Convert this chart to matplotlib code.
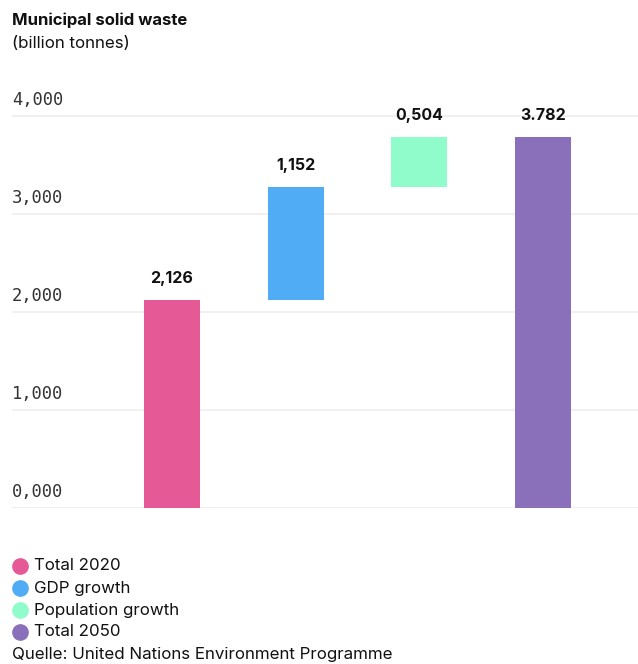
import matplotlib
matplotlib.use("Agg")
import matplotlib.pyplot as plt
from matplotlib.transforms import blended_transform_factory, offset_copy

categories = ["Total 2020", "GDP growth", "Population growth", "Total 2050"]
values = [2.126, 1.152, 0.504, 3.782]
is_total = [True, False, False, True]
value_labels = ["2,126", "1,152", "0,504", "3.782"]
colors = ["#E55A96", "#4FACF5", "#90FCCB", "#8A6FBB"]
yticks = [0, 1, 2, 3, 4]
ytick_labels = ["0,000", "1,000", "2,000", "3,000", "4,000"]
title = "Municipal solid waste"
subtitle = "(billion tonnes)"
source = "Quelle: United Nations Environment Programme"

W, H = 638, 664
fig = plt.figure(figsize=(W / 100, H / 100), dpi=100)
fig.patch.set_facecolor("white")

ax_left, ax_right = 12, 638
ax_bottom, ax_top = 508, 100
ax = fig.add_axes([ax_left / W, 1 - ax_bottom / H, (ax_right - ax_left) / W, (ax_bottom - ax_top) / H])
px_per_unit = 98.0
ax.set_ylim(0, (ax_bottom - ax_top) / px_per_unit)
spacing = 123.67
ax.set_xlim(-(172 - ax_left) / spacing, 3 + (ax_right - 543) / spacing)

# waterfall bottoms
bottoms = []
running = 0.0
for v, t in zip(values, is_total):
    if t:
        bottoms.append(0.0)
        running = v
    else:
        bottoms.append(running)
        running += v

xs = list(range(len(values)))
ax.bar(xs, values, bottom=bottoms, width=56 / spacing, color=colors, zorder=3)

for x, v, b, lab in zip(xs, values, bottoms, value_labels):
    ax.annotate(lab, (x, b + v), xytext=(0, 10), textcoords="offset points",
                ha="center", va="bottom", fontsize=11.5, fontweight="bold",
                family="Inter", color="#111111")

for s in ax.spines.values():
    s.set_visible(False)
ax.set_xticks([])
ax.set_yticks(yticks)
ax.set_yticklabels([])
ax.tick_params(axis="y", length=0)
ax.grid(axis="y", color="#EDEDED", linewidth=1.2, zorder=0)
ax.set_axisbelow(True)

trans = blended_transform_factory(ax.transAxes, ax.transData)
trans = offset_copy(trans, fig=fig, x=0, y=7, units="dots")
for t, lab in zip(yticks, ytick_labels):
    ax.text(0.0, t, lab, transform=trans, ha="left", va="bottom",
            fontsize=12.3, family="DejaVu Sans Mono", color="#333333")

fig.text(12 / W, 1 - 20 / H, title, fontsize=12, fontweight="bold",
         family="Inter", va="center", ha="left", color="#111111")
fig.text(12 / W, 1 - 44 / H, subtitle, fontsize=12.2,
         family="Inter", va="center", ha="left", color="#111111")

leg_y = [566, 588, 610, 632]
for yy, c, lab in zip(leg_y, colors, categories):
    fig.lines.append(matplotlib.lines.Line2D([20 / W], [1 - yy / H], marker="o",
                                             markersize=11, color=c, linestyle="none",
                                             transform=fig.transFigure))
    fig.text(34 / W, 1 - yy / H, lab, fontsize=12.2, family="Inter",
             va="center", ha="left", color="#111111")

fig.text(12 / W, 1 - 655 / H, source, fontsize=12.2, family="Inter",
         va="center", ha="left", color="#111111")

fig.savefig("out.png", dpi=100, facecolor="white")
